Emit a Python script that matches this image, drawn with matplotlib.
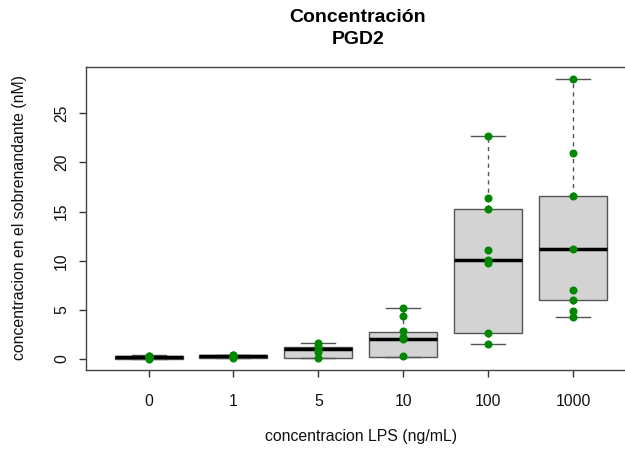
import matplotlib
matplotlib.use("Agg")
import matplotlib.pyplot as plt

plt.rcParams['font.family'] = ['Liberation Sans', 'DejaVu Sans']

categories = ["0", "1", "5", "10", "100", "1000"]

# observed points per group (nM)
points_0 = [0.05, 0.15, 0.2, 0.3, 0.35]
points_1 = [0.15, 0.25, 0.35, 0.4, 0.45]
points_5 = [0.07, 0.75, 1.0, 1.3, 1.66]
points_10 = [0.3, 2.0, 2.2, 2.8, 4.4, 5.15]
points_100 = [1.52, 2.67, 9.8, 10.06, 11.08, 15.3, 16.4, 22.7]
points_1000 = [4.3, 4.9, 6.0, 7.0, 11.15, 16.6, 21.0, 28.5]
all_points = [points_0, points_1, points_5, points_10, points_100, points_1000]

# box statistics
whisker_low = [0.05, 0.12, 0.07, 0.24, 1.52, 4.3]
q1 = [0.05, 0.15, 0.07, 0.24, 2.67, 6.0]
medians = [0.2, 0.33, 0.98, 2.06, 10.06, 11.15]
q3 = [0.3, 0.4, 1.25, 2.7, 15.3, 16.6]
whisker_high = [0.37, 0.45, 1.66, 5.15, 22.7, 28.5]

fig = plt.figure(figsize=(6.25, 4.5), dpi=100)
ax = fig.add_axes([85.7 / 625, 1 - 370 / 450, (636 - 85.7) / 625, (370 - 67.3) / 450])

stats = []
for i in range(len(categories)):
    stats.append(dict(med=medians[i], q1=q1[i], q3=q3[i],
                      whislo=whisker_low[i], whishi=whisker_high[i], fliers=[]))

positions = list(range(1, len(categories) + 1))
edge = '#555555'
ax.bxp(stats, positions=positions, widths=0.8, patch_artist=True, showfliers=False,
       boxprops=dict(facecolor='#d3d3d3', edgecolor=edge, linewidth=1.0),
       medianprops=dict(color='black', linewidth=2.5, solid_capstyle='butt'),
       whiskerprops=dict(color=edge, linewidth=1.0, linestyle=(0, (3, 3))),
       capprops=dict(color=edge, linewidth=1.0), capwidths=0.4)

for pos, pts in zip(positions, all_points):
    ax.plot([pos] * len(pts), pts, 'o', color='#008800', markersize=5.8,
            markeredgewidth=0, zorder=5)

ax.set_xlim(0.26, 6.74)
ax.set_ylim(-1.12, 29.68)
ax.set_xticks(positions)
ax.set_xticklabels(categories)
ax.set_yticks([0, 5, 10, 15, 20, 25])
ax.set_yticklabels(['0', '5', '10', '15', '20', '25'], rotation=90, va='center')

for s in ax.spines.values():
    s.set_color('#444444')
    s.set_linewidth(1.0)
ax.tick_params(axis='both', direction='out', length=5, width=1.0, color='#333333',
               labelsize=11.3, labelcolor='#111111')
ax.tick_params(axis='x', pad=12)
ax.tick_params(axis='y', pad=7)

fig.text(20 / 625, 1 - 218 / 450, 'concentracion en el sobrenandante (nM)', rotation=90,
         ha='center', va='center', fontsize=11.4, color='#111111')
fig.text(361 / 625, 1 - 437 / 450, 'concentracion LPS (ng/mL)', ha='center', va='center',
         fontsize=11.4, color='#111111')
fig.text(358 / 625, 1 - 18 / 450, 'Concentración', ha='center', va='center',
         fontsize=14, fontweight='bold')
fig.text(358 / 625, 1 - 40 / 450, 'PGD2', ha='center', va='center',
         fontsize=14, fontweight='bold')

fig.savefig('out.png', dpi=100)
